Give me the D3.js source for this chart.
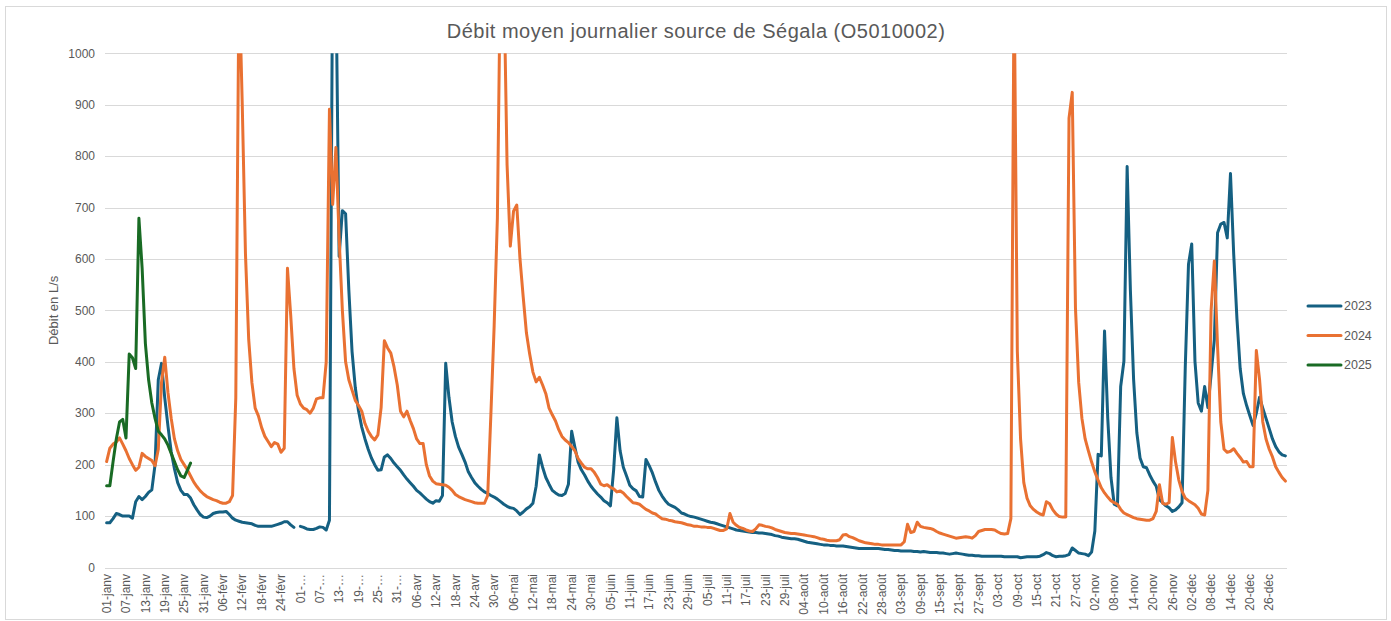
<!DOCTYPE html>
<html lang="fr">
<head>
<meta charset="utf-8">
<title>Débit moyen journalier source de Ségala</title>
<script src="https://cdn.jsdelivr.net/npm/d3@7"></script>
<style>
  body { margin: 0; background: #fff; }
  svg { display: block; font-family: "Liberation Sans", Arial, sans-serif; }
</style>
</head>
<body>
<div id="chart"></div>
<script>
// Données (L/s), année bissextile en abscisse : 2023 n'a pas de 29-févr
var mois = ["janv", "févr", "mars", "avr", "mai", "juin", "juil", "août", "sept", "oct", "nov", "déc"];
var joursParMois = [31, 29, 31, 30, 31, 30, 31, 31, 30, 31, 30, 31];
var annees = ["2023", "2024", "2025"];
var couleurs = ["#156082", "#e97132", "#196b24"];
var yTicks = [0, 100, 200, 300, 400, 500, 600, 700, 800, 900, 1000];

var tickLabels = [
  "01-janv", "07-janv", "13-janv", "19-janv", "25-janv", "31-janv",
  "06-févr", "12-févr", "18-févr", "24-févr",
  "01-…", "07-…", "13-…", "19-…", "25-…", "31-…",
  "06-avr", "12-avr", "18-avr", "24-avr", "30-avr",
  "06-mai", "12-mai", "18-mai", "24-mai", "30-mai",
  "05-juin", "11-juin", "17-juin", "23-juin", "29-juin",
  "05-juil", "11-juil", "17-juil", "23-juil", "29-juil",
  "04-août", "10-août", "16-août", "22-août", "28-août",
  "03-sept", "09-sept", "15-sept", "21-sept", "27-sept",
  "03-oct", "09-oct", "15-oct", "21-oct", "27-oct",
  "02-nov", "08-nov", "14-nov", "20-nov", "26-nov",
  "02-déc", "08-déc", "14-déc", "20-déc", "26-déc"
];
var tickEvery = 6;

var debit2023 = [
  // janv
  87, 87, 95, 105, 103, 100, 100, 100, 96, 128, 138, 132, 138, 146, 151, 200,
  365, 397, 330, 275, 225, 192, 165, 150, 142, 142, 135, 122, 112, 103, 98,
  // févr
  97, 100, 105, 107, 108, 108, 109, 103, 96, 92, 90, 88, 87, 86, 85, 82, 80,
  80, 80, 80, 80, 82, 84, 86, 89, 89, 83, 78, null,
  // mars
  80, 78, 75, 74, 74, 76, 79, 78, 73, 92, 1200, 1150, 605, 694, 688, 540, 420,
  350, 305, 273, 250, 230, 213, 200, 189, 190, 215, 219, 212, 203, 196,
  // avr
  189, 180, 172, 165, 158, 150, 145, 139, 133, 128, 125, 130, 129, 140, 397,
  331, 283, 255, 234, 220, 205, 186, 175, 165, 158, 152, 147, 144, 140, 137,
  // mai
  133, 128, 123, 119, 116, 115, 110, 103, 108, 114, 118, 125, 158, 219, 195,
  175, 162, 150, 145, 141, 140, 144, 162, 265, 234, 205, 190, 180, 168, 158, 150,
  // juin
  143, 137, 130, 126, 120, 190, 291, 227, 195, 178, 160, 153, 149, 138, 137,
  210, 198, 184, 166, 150, 139, 130, 123, 120, 117, 112, 106, 104, 101, 99,
  // juil
  98, 96, 94, 92, 90, 88, 87, 85, 83, 81, 79, 77, 75, 73, 72, 71, 70, 69, 68,
  68, 67, 67, 66, 65, 64, 62, 61, 59, 58, 57, 56,
  // août
  56, 55, 53, 51, 49, 48, 47, 46, 45, 44, 44, 43, 43, 42, 42, 42, 41, 40, 39,
  38, 37, 37, 37, 37, 37, 37, 37, 36, 35, 35, 34,
  // sept
  33, 33, 32, 32, 32, 32, 31, 31, 30, 31, 30, 29, 29, 29, 28, 28, 27, 26, 27,
  28, 27, 26, 25, 24, 24, 23, 23, 22, 22, 22,
  // oct
  22, 22, 22, 22, 21, 21, 21, 21, 21, 19, 20, 21, 21, 21, 21, 22, 25, 29, 27,
  23, 21, 22, 22, 23, 25, 38, 33, 28, 27, 26, 23,
  // nov
  30, 71, 220, 217, 460, 290, 175, 123, 120, 352, 401, 780, 540, 366, 262,
  213, 196, 194, 180, 168, 158, 132, 126, 120, 116, 109, 112, 118, 126, 390,
  // déc
  590, 629, 401, 320, 304, 352, 311, 375, 443, 651, 668, 671, 641, 766, 609,
  484, 387, 338, 315, 295, 276, 300, 331, 310, 290, 270, 250, 235, 225, 219, 217
];

var debit2024 = [
  // janv
  206, 232, 240, 244, 252, 240, 227, 212, 200, 189, 195, 222, 216, 212, 208,
  198, 230, 360, 409, 340, 290, 250, 227, 210, 200, 190, 178, 166, 157, 149, 143,
  // févr
  138, 135, 132, 130, 127, 125, 125, 128, 140, 330, 1150, 900, 609, 443, 359,
  310, 295, 272, 255, 245, 235, 243, 240, 224, 232, 582, 491, 387, 335,
  // mars
  318, 310, 307, 300, 310, 328, 330, 330, 400, 891, 706, 817, 640, 500, 400,
  365, 345, 325, 315, 304, 280, 265, 255, 248, 258, 311, 441, 427, 417, 390, 355,
  // avr
  304, 293, 304, 286, 270, 250, 241, 241, 200, 178, 168, 163, 162, 161, 160,
  156, 150, 142, 138, 135, 132, 130, 128, 126, 125, 125, 125, 140, 300, 470,
  // mai
  680, 1200, 1150, 783, 625, 693, 705, 600, 526, 456, 415, 380, 361, 370, 355,
  338, 310, 297, 285, 268, 255, 248, 243, 235, 227, 212, 203, 195, 192, 192, 185,
  // juin
  175, 162, 159, 161, 156, 153, 147, 149, 145, 138, 132, 126, 125, 123, 118,
  113, 110, 106, 104, 99, 95, 94, 92, 91, 89, 88, 87, 85, 83, 82,
  // juil
  80, 80, 79, 79, 78, 78, 76, 74, 72, 72, 75, 105, 88, 82, 78, 76, 73, 71, 70,
  75, 83, 82, 80, 79, 77, 74, 72, 70, 68, 67, 66,
  // août
  66, 65, 64, 63, 62, 61, 60, 58, 56, 55, 53, 52, 52, 52, 54, 63, 64, 60, 58,
  55, 52, 50, 48, 47, 46, 45, 45, 44, 44, 44, 44,
  // sept
  44, 44, 44, 50, 84, 68, 70, 88, 80, 78, 77, 76, 74, 70, 67, 65, 63, 61, 59,
  57, 58, 59, 60, 59, 57, 62, 70, 72, 74, 74,
  // oct
  74, 73, 69, 66, 65, 66, 95, 1150, 420, 250, 165, 135, 120, 113, 108, 104,
  102, 128, 124, 112, 104, 99, 98, 98, 874, 924, 505, 360, 290, 250, 227,
  // nov
  205, 186, 170, 155, 145, 137, 130, 126, 123, 113, 106, 103, 100, 97, 95, 94,
  93, 92, 92, 95, 109, 161, 125, 123, 126, 253, 205, 170, 148, 135,
  // déc
  130, 126, 122, 115, 104, 102, 150, 500, 596, 430, 283, 230, 224, 226, 231,
  222, 214, 205, 206, 196, 196, 422, 366, 283, 250, 230, 215, 196, 185, 175, 168
];

var debit2025 = [
  159, 159, 206, 250, 283, 288, 252, 415, 408, 387, 679, 582, 436, 365, 320,
  290, 265, 258, 250, 238, 222, 206, 190, 178, 175, 189, 203
];

var series = [debit2023, debit2024, debit2025];


var categories = [];
mois.forEach(function(m, i) {
  for (var j = 1; j <= joursParMois[i]; j++) {
    categories.push((j < 10 ? "0" : "") + j + "-" + m);
  }
});

var width = 1391, height = 621;
var plot = { left: 105, right: 1287, top: 53.3, bottom: 567.5 };
var texte = "#595959";

var x = d3.scalePoint()
  .domain(d3.range(categories.length))
  .range([plot.left, plot.right])
  .padding(0.5);

var y = d3.scaleLinear()
  .domain([0, 1000])
  .range([plot.bottom, plot.top]);

var svg = d3.select("#chart")
  .append("svg")
  .attr("width", width)
  .attr("height", height);

// cadre du graphique
svg.append("rect")
  .attr("x", 5.5)
  .attr("y", 6.5)
  .attr("width", 1381)
  .attr("height", 613)
  .attr("fill", "#fff")
  .attr("stroke", "#d9d9d9");

svg.append("text")
  .attr("x", 696)
  .attr("y", 38)
  .attr("text-anchor", "middle")
  .attr("font-size", 20)
  .attr("letter-spacing", "0.5px")
  .attr("fill", texte)
  .text("Débit moyen journalier source de Ségala (O5010002)");

svg.append("text")
  .attr("transform", "translate(58," + (plot.top + plot.bottom) / 2 + ") rotate(-90)")
  .attr("text-anchor", "middle")
  .attr("font-size", 13)
  .attr("fill", texte)
  .text("Débit en L/s");

// grille + axe Y
svg.append("g")
  .selectAll("line")
  .data(yTicks)
  .enter()
  .append("line")
  .attr("x1", plot.left)
  .attr("x2", plot.right)
  .attr("y1", function(d) { return Math.round(y(d)) + 0.5; })
  .attr("y2", function(d) { return Math.round(y(d)) + 0.5; })
  .attr("stroke", "#d9d9d9")
  .attr("stroke-width", 1);

svg.append("g")
  .selectAll("text")
  .data(yTicks)
  .enter()
  .append("text")
  .attr("x", 95)
  .attr("y", function(d) { return y(d); })
  .attr("dy", "0.35em")
  .attr("text-anchor", "end")
  .attr("font-size", 12)
  .attr("fill", texte)
  .text(function(d) { return d; });

// axe X, une étiquette tous les 6 jours
svg.append("g")
  .selectAll("text")
  .data(tickLabels)
  .enter()
  .append("text")
  .attr("transform", function(d, i) {
    return "translate(" + x(i * tickEvery) + ",574) rotate(-90)";
  })
  .attr("dy", "0.35em")
  .attr("text-anchor", "end")
  .attr("font-size", 12)
  .attr("fill", texte)
  .text(function(d) { return d; });

svg.append("clipPath")
  .attr("id", "zone")
  .append("rect")
  .attr("x", plot.left - 5)
  .attr("y", plot.top)
  .attr("width", plot.right - plot.left + 10)
  .attr("height", plot.bottom - plot.top + 5);

var line = d3.line()
  .defined(function(d) { return d != null; })
  .x(function(d, i) { return x(i); })
  .y(function(d) { return y(d); });

svg.append("g")
  .attr("clip-path", "url(#zone)")
  .selectAll("path")
  .data(series)
  .enter()
  .append("path")
  .attr("d", line)
  .attr("fill", "none")
  .attr("stroke", function(d, i) { return couleurs[i]; })
  .attr("stroke-width", 3)
  .attr("stroke-linejoin", "round")
  .attr("stroke-linecap", "round");

// légende
var legende = svg.append("g")
  .selectAll("g")
  .data(annees)
  .enter()
  .append("g")
  .attr("transform", function(d, i) { return "translate(1308," + (306 + i * 29.5) + ")"; });

legende.append("line")
  .attr("x1", 0)
  .attr("x2", 33)
  .attr("stroke", function(d, i) { return couleurs[i]; })
  .attr("stroke-width", 3)
  .attr("stroke-linecap", "round");

legende.append("text")
  .attr("x", 36)
  .attr("dy", "0.35em")
  .attr("font-size", 12.5)
  .attr("fill", texte)
  .text(function(d) { return d; });
</script>
</body>
</html>
